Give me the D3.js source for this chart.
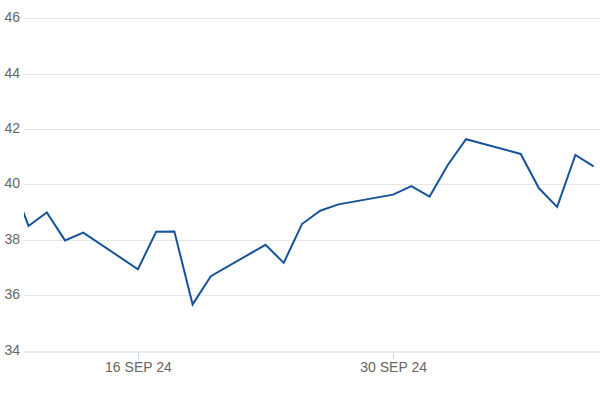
<!DOCTYPE html>
<html>
<head>
<meta charset="utf-8">
<script src="https://cdn.jsdelivr.net/npm/d3@7"></script>
<style>
  html, body { margin: 0; padding: 0; background: #fff; }
  svg { display: block; font-family: "Liberation Sans", Arial, sans-serif; }
</style>
</head>
<body>
<svg id="chart" width="600" height="400"></svg>
<script>
// ---- data ----
const dates = [
  "2024-09-09", "2024-09-10", "2024-09-11", "2024-09-12", "2024-09-13",
  "2024-09-16", "2024-09-17", "2024-09-18", "2024-09-19", "2024-09-20",
  "2024-09-23", "2024-09-24", "2024-09-25", "2024-09-26", "2024-09-27",
  "2024-09-30", "2024-10-01", "2024-10-02", "2024-10-03", "2024-10-04",
  "2024-10-07", "2024-10-08", "2024-10-09", "2024-10-10", "2024-10-11"
];
const values = [
  40.24, 38.50, 38.99, 37.98, 38.26,
  36.94, 38.29, 38.30, 35.67, 36.69,
  37.82, 37.17, 38.57, 39.05, 39.28,
  39.63, 39.94, 39.56, 40.70, 41.63,
  41.10, 39.86, 39.19, 41.06, 40.65
];
const yTicks = [34, 36, 38, 40, 42, 44, 46];
const xTickDates = ["2024-09-16", "2024-09-30"];
const xTickLabels = ["16 SEP 24", "30 SEP 24"];
const xDomain = ["2024-09-09T18:00:00Z", "2024-10-11T08:24:00Z"];
const yDomain = [34, 46];

// ---- chart ----
const W = 600, H = 400;
const plot = { left: 24, right: 600, top: 18.1, bottom: 350.7 };
const svg = d3.select("#chart");

const parse = d3.utcParse("%Y-%m-%d");
const data = dates.map((d, i) => ({ date: parse(d), value: values[i] }));

const x = d3.scaleUtc()
  .domain(xDomain.map(s => new Date(s)))
  .range([plot.left, plot.right]);
const y = d3.scaleLinear()
  .domain(yDomain)
  .range([plot.bottom, plot.top]);

// grid lines
svg.append("g")
  .selectAll("line")
  .data(yTicks.filter(t => t !== yDomain[0]))
  .join("line")
  .attr("x1", plot.left).attr("x2", plot.right)
  .attr("y1", d => Math.round(y(d)) + 0.5).attr("y2", d => Math.round(y(d)) + 0.5)
  .attr("stroke", "#e6e6e6").attr("stroke-width", 1);

// y labels
svg.append("g")
  .selectAll("text")
  .data(yTicks)
  .join("text")
  .attr("x", 20)
  .attr("y", d => y(d) + 4)
  .attr("text-anchor", "end")
  .attr("fill", "#666666")
  .attr("font-size", 14)
  .text(d => d);

// x axis
const xAxis = d3.axisBottom(x)
  .tickValues(xTickDates.map(parse))
  .tickFormat((d, i) => xTickLabels[i])
  .tickSizeOuter(0)
  .tickSizeInner(8)
  .tickPadding(2.5);
const gx = svg.append("g")
  .attr("transform", `translate(0,${Math.round(plot.bottom) + 0.5})`)
  .call(xAxis);
gx.select(".domain").attr("stroke", "#ccd6eb");
gx.selectAll(".tick line").attr("stroke", "#ccd6eb");
gx.selectAll(".tick text")
  .attr("fill", "#666666")
  .attr("font-size", 14)
  .attr("font-family", "Liberation Sans, Arial, sans-serif");

// clip
svg.append("clipPath").attr("id", "clip")
  .append("rect")
  .attr("x", plot.left).attr("y", 0)
  .attr("width", plot.right - plot.left).attr("height", H);

const line = d3.line()
  .x(d => x(d.date))
  .y(d => y(d.value));

svg.append("path")
  .datum(data)
  .attr("clip-path", "url(#clip)")
  .attr("fill", "none")
  .attr("stroke", "#17539a")
  .attr("stroke-width", 2)
  .attr("stroke-linejoin", "miter")
  .attr("d", line);
</script>
</body>
</html>
